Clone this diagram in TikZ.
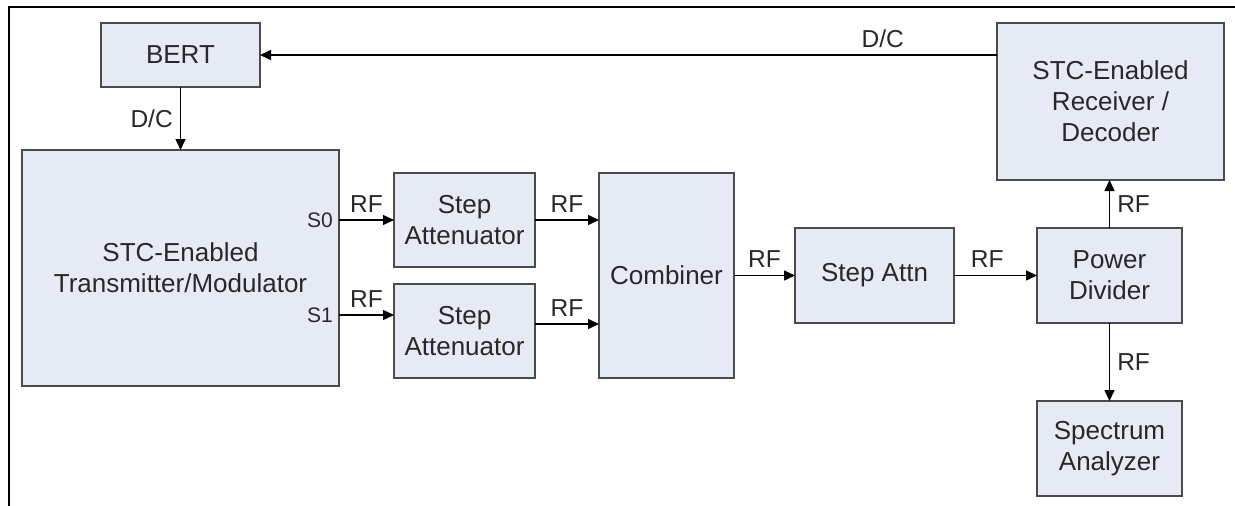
\documentclass[tikz,border=0pt]{standalone}
\usepackage{fontspec}
\setmainfont{Liberation Sans}
\usepackage{tikz}
\usetikzlibrary{arrows.meta,positioning}
\usepackage{xcolor}
\definecolor{boxfill}{RGB}{229,234,245}
\definecolor{boxline}{RGB}{75,75,75}
\definecolor{textgrey}{RGB}{40,40,40}

\begin{document}
\begin{tikzpicture}[x=1pt, y=-1pt,
    block/.style={draw=boxline, line width=2pt, fill=boxfill, inner sep=0pt,
      outer sep=0pt, align=center, text=textgrey, font=\fontsize{26}{31}\selectfont},
    link/.style={line width=1.5pt, -{Triangle[length=11pt,width=10pt]}},
    lab/.style={font=\fontsize{24.5}{28}\selectfont, text=textgrey, inner sep=7pt},
    port/.style={font=\fontsize{21}{24}\selectfont, text=textgrey, inner sep=0pt}]
    \useasboundingbox (0,0) rectangle (1235,506);
    % Outer frame
    \draw[line width=1.5pt] (9,506) -- (9,7) -- (1235,7);
    % Blocks
    \node[block, minimum width=159pt, minimum height=64pt]  (bert) at (180.5,55) {BERT};
    \node[block, minimum width=317pt, minimum height=236pt] (tx)   at (180.5,268)
      {STC-Enabled\\Transmitter/Modulator};
    \node[block, minimum width=141pt, minimum height=94pt]  (att1) at (464.5,220) {Step\\Attenuator};
    \node[block, minimum width=141pt, minimum height=94pt, below=17pt of att1] (att2) {Step\\Attenuator};
    \node[block, minimum width=135pt, minimum height=205pt] (comb) at (666.5,275.5) {Combiner};
    \node[block, minimum width=159pt, minimum height=95pt]  (attn) at (874.5,275.5) {Step Attn};
    \node[block, minimum width=145pt, minimum height=95pt]  (pdiv) at (1109.5,275.5) {Power\\Divider};
    \node[block, minimum width=227pt, minimum height=157pt] (rx)   at (1110.5,101.5)
      {STC-Enabled\\Receiver /\\Decoder};
    \node[block, minimum width=145pt, minimum height=95pt, below=78pt of pdiv] (sa) {Spectrum\\Analyzer};
    % Control links
    \draw[link] (rx.west |- bert) -- node[lab, above, pos=0.155] {D/C} (bert.east);
    \draw[link] (bert) -- node[lab, left] {D/C} (tx);
    % Transmitter ports
    \coordinate (s1) at ([yshift=16pt]att2.west);
    \node[port, anchor=east] (s0lab) at ([xshift=-6pt]tx.east |- att1) {S0};
    \node[port, anchor=east] (s1lab) at ([xshift=-6pt]tx.east |- s1) {S1};
    % RF chain
    \draw[link] (tx.east |- att1) -- node[lab, above] {RF} (att1.west);
    \draw[link] (tx.east |- s1) -- node[lab, above] {RF} (s1);
    \draw[link] (att1) -- node[lab, above] {RF} (comb.west |- att1);
    \coordinate (c2) at ([yshift=7pt]att2.east);
    \draw[link] (c2) -- node[lab, above] {RF} (comb.west |- c2);
    \draw[link] (comb) -- node[lab, above] {RF} (attn);
    \draw[link] (attn) -- node[lab, above, pos=0.4] {RF} (pdiv);
    \draw[link] (pdiv.north) -- node[lab, right] {RF} (pdiv.north |- rx.south);
    \draw[link] (pdiv) -- node[lab, right] {RF} (sa);
\end{tikzpicture}
\end{document}
